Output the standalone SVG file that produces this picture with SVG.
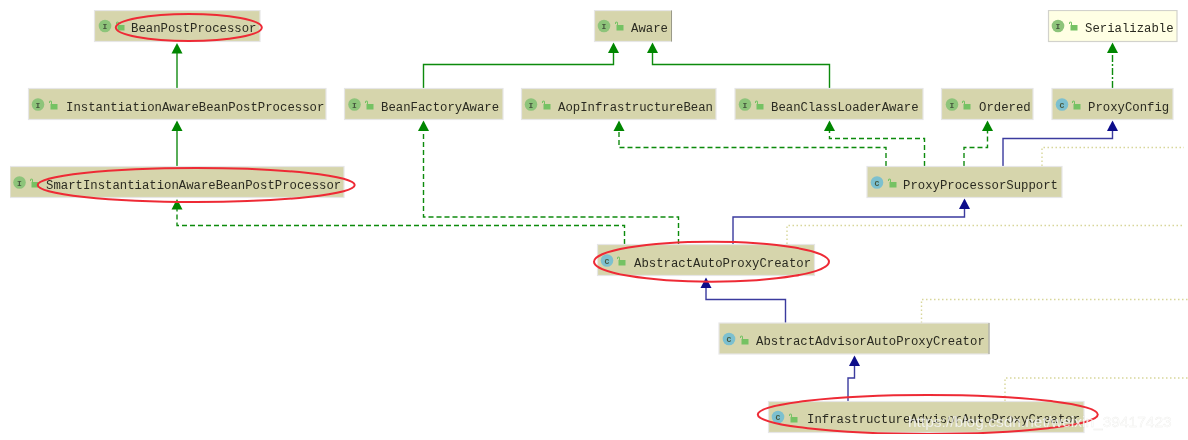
<svg xmlns="http://www.w3.org/2000/svg" width="1188" height="440" viewBox="0 0 1188 440">
<defs>
<style>
.box{fill:#d6d5ac;stroke:#e6e6e6;stroke-width:1.2}
.t{font-family:"Liberation Mono",monospace;font-size:12.3px;fill:#2b2b20}
.ic{font-family:"Liberation Mono",monospace;font-size:8px;font-weight:bold;fill:#44553c;text-anchor:middle}
.ci{fill:#8dc47a}.cc{fill:#7cc0cf}
.lock{fill:#74c264}
.ln{fill:none;stroke-width:1.4}
.g{stroke:#118a11}.b{stroke:#3a3a9e}
.d{stroke-dasharray:5 3}
.dd{stroke-dasharray:7 2 2 2}
.o{stroke:#d8d69a;stroke-dasharray:1.5 2.5}
.e{fill:none;stroke:#ee2b36;stroke-width:2}
.edge{stroke:#9a9a88;stroke-width:1;fill:none}
</style>
<filter id="soft" x="0" y="0" width="100%" height="100%" filterUnits="objectBoundingBox"><feGaussianBlur stdDeviation="0.35"/></filter>
<path id="lk" class="lock" d="M-1.500 0h7v5.500h-7zM0 0v-2a1.500 1.500 0 0 0-3 0v1h1v-1a.5.5 0 0 1 1 0v2z"/>
</defs>
<rect width="1188" height="440" fill="#ffffff"/>
<g filter="url(#soft)">
<g id="connectors">
<path class="ln g" d="M177 88V53"/><path d="M171.500 53.500L177 43L182.500 53.500Z" fill="#068606"/>
<path class="ln g" d="M177 166V131"/><path d="M171.500 131L177 120.500L182.500 131Z" fill="#068606"/>
<path class="ln g d" d="M624.500 244V225.500H177V208"/><path d="M171.500 209.500L177 199L182.500 209.500Z" fill="#068606"/>
<path class="ln g" d="M423.500 88V64.500H613.500V52"/><path d="M608 53L613.500 42.500L619 53Z" fill="#068606"/>
<path class="ln g" d="M829.500 88V64.500H652.500V52"/><path d="M647 53L652.500 42.500L658 53Z" fill="#068606"/>
<path class="ln g d" d="M678.500 244V217H423.500V130"/><path d="M418 131L423.500 120.500L429 131Z" fill="#068606"/>
<path class="ln g d" d="M886 166V147.500H619V130"/><path d="M613.500 131L619 120.500L624.500 131Z" fill="#068606"/>
<path class="ln g d" d="M924.500 166V138.500H829.500V130"/><path d="M824 131L829.500 120.500L835 131Z" fill="#068606"/>
<path class="ln g d" d="M964 166V147.500H987.500V130"/><path d="M982 131L987.500 120.500L993 131Z" fill="#068606"/>
<path class="ln g dd" d="M1112.500 88V52"/><path d="M1107 53L1112.500 42.500L1118 53Z" fill="#068606"/>
<path class="ln b" d="M1003 166V138.500H1112.500V130"/><path d="M1107 131L1112.500 120.500L1118 131Z" fill="#0a0a8a"/>
<path class="ln b" d="M733 244V217H964.500V208"/><path d="M959 209L964.500 198.500L970 209Z" fill="#0a0a8a"/>
<path class="ln b" d="M785.500 323V299.500H706V287"/><path d="M700.500 288L706 277.500L711.500 288Z" fill="#0a0a8a"/>
<path class="ln b" d="M848 401V378H854.500V365"/><path d="M849 366L854.500 355.500L860 366Z" fill="#0a0a8a"/>
<path class="ln o" d="M1042 166V147.500H1184"/>
<path class="ln o" d="M787 244V225.500H1184"/>
<path class="ln o" d="M921.500 323V299.500H1188"/>
<path class="ln o" d="M1005 401V378H1188"/>
</g>
<g id="n-beanpostprocessor"><rect class="box" x="94.500" y="10.500" width="165.500" height="31"/><circle class="ci" cx="105" cy="26" r="6.300"/><text class="ic" x="105" y="29">I</text><use href="#lk" x="119" y="25"/><text class="t" x="131" y="32">BeanPostProcessor</text></g>
<g id="n-instantiationaware"><rect class="box" x="28.500" y="88.500" width="297.500" height="31"/><circle class="ci" cx="38" cy="104.500" r="6.300"/><text class="ic" x="38" y="107.500">I</text><use href="#lk" x="52" y="104"/><text class="t" x="66" y="110.500">InstantiationAwareBeanPostProcessor</text></g>
<g id="n-smartinstantiationaware"><rect class="box" x="10" y="166.500" width="334" height="31"/><circle class="ci" cx="19.500" cy="182.500" r="6.300"/><text class="ic" x="19.500" y="185.500">I</text><use href="#lk" x="33" y="182"/><text class="t" x="46" y="188.500">SmartInstantiationAwareBeanPostProcessor</text></g>
<g id="n-beanfactoryaware"><rect class="box" x="344.500" y="88.500" width="158.500" height="31"/><circle class="ci" cx="354.500" cy="104.500" r="6.300"/><text class="ic" x="354.500" y="107.500">I</text><use href="#lk" x="368" y="104"/><text class="t" x="381" y="110.500">BeanFactoryAware</text></g>
<g id="n-aware"><rect class="box" x="594.500" y="10.500" width="77" height="31"/><path class="edge" d="M671.500 10.500V41.500"/><circle class="ci" cx="604" cy="26" r="6.300"/><text class="ic" x="604" y="29">I</text><use href="#lk" x="618" y="25"/><text class="t" x="631" y="32">Aware</text></g>
<g id="n-aopinfrastructurebean"><rect class="box" x="521.500" y="88.500" width="194.500" height="31"/><circle class="ci" cx="531" cy="104.500" r="6.300"/><text class="ic" x="531" y="107.500">I</text><use href="#lk" x="545" y="104"/><text class="t" x="558" y="110.500">AopInfrastructureBean</text></g>
<g id="n-beanclassloaderaware"><rect class="box" x="735" y="88.500" width="188" height="31"/><circle class="ci" cx="745" cy="104.500" r="6.300"/><text class="ic" x="745" y="107.500">I</text><use href="#lk" x="758" y="104"/><text class="t" x="771" y="110.500">BeanClassLoaderAware</text></g>
<g id="n-ordered"><rect class="box" x="941.500" y="88.500" width="91.500" height="31"/><circle class="ci" cx="952" cy="104.500" r="6.300"/><text class="ic" x="952" y="107.500">I</text><use href="#lk" x="965" y="104"/><text class="t" x="979" y="110.500">Ordered</text></g>
<g id="n-proxyconfig"><rect class="box" x="1052" y="88.500" width="121" height="31"/><circle class="cc" cx="1062" cy="104.500" r="6.300"/><text class="ic" x="1062" y="107.500">C</text><use href="#lk" x="1075" y="104"/><text class="t" x="1088" y="110.500">ProxyConfig</text></g>
<g id="n-serializable"><rect x="1048.500" y="10.500" width="128.500" height="31" fill="#ffffe4" stroke="#d2d2cc" stroke-width="1.200"/><circle class="ci" cx="1058" cy="26" r="6.300"/><text class="ic" x="1058" y="29">I</text><use href="#lk" x="1072" y="25"/><text class="t" x="1085" y="32">Serializable</text></g>
<g id="n-proxyprocessorsupport"><rect class="box" x="867" y="166.500" width="195" height="31"/><circle class="cc" cx="877" cy="182.500" r="6.300"/><text class="ic" x="877" y="185.500">C</text><use href="#lk" x="891" y="182"/><text class="t" x="903" y="188.500">ProxyProcessorSupport</text></g>
<g id="n-abstractautoproxycreator"><rect class="box" x="597.500" y="244.500" width="217" height="31"/><circle class="cc" cx="607" cy="260.500" r="6.300"/><text class="ic" x="607" y="263.500">C</text><use href="#lk" x="620" y="260"/><text class="t" x="634" y="266.500">AbstractAutoProxyCreator</text></g>
<g id="n-abstractadvisorautoproxycreator"><rect class="box" x="719" y="323" width="270" height="31"/><path class="edge" d="M989 323V354"/><circle class="cc" cx="729" cy="339" r="6.300"/><text class="ic" x="729" y="342">C</text><use href="#lk" x="743" y="339"/><text class="t" x="756" y="345">AbstractAdvisorAutoProxyCreator</text></g>
<g id="n-infrastructureadvisorautoproxycreator"><rect class="box" x="768.500" y="401.500" width="315.500" height="31"/><circle class="cc" cx="778" cy="417" r="6.300"/><text class="ic" x="778" y="420">C</text><use href="#lk" x="792" y="417"/><text class="t" x="807" y="423">InfrastructureAdvisorAutoProxyCreator</text></g>
<g id="highlights">
<ellipse class="e" cx="188.800" cy="27.500" rx="73" ry="13.500"/>
<ellipse class="e" cx="196.200" cy="185" rx="158.500" ry="17"/>
<ellipse class="e" cx="711.500" cy="261.700" rx="117.500" ry="20"/>
<ellipse class="e" cx="927.800" cy="414.500" rx="170" ry="19.500"/>
</g>
<text x="908" y="427" font-family="Liberation Sans,Arial,sans-serif" font-size="15.500px" fill="#ffffff" fill-opacity="0.8" stroke="#c8c8c0" stroke-opacity="0.35" stroke-width="0.4">https://blog.csdn.net/weixin_39417423</text>
</g>
</svg>
